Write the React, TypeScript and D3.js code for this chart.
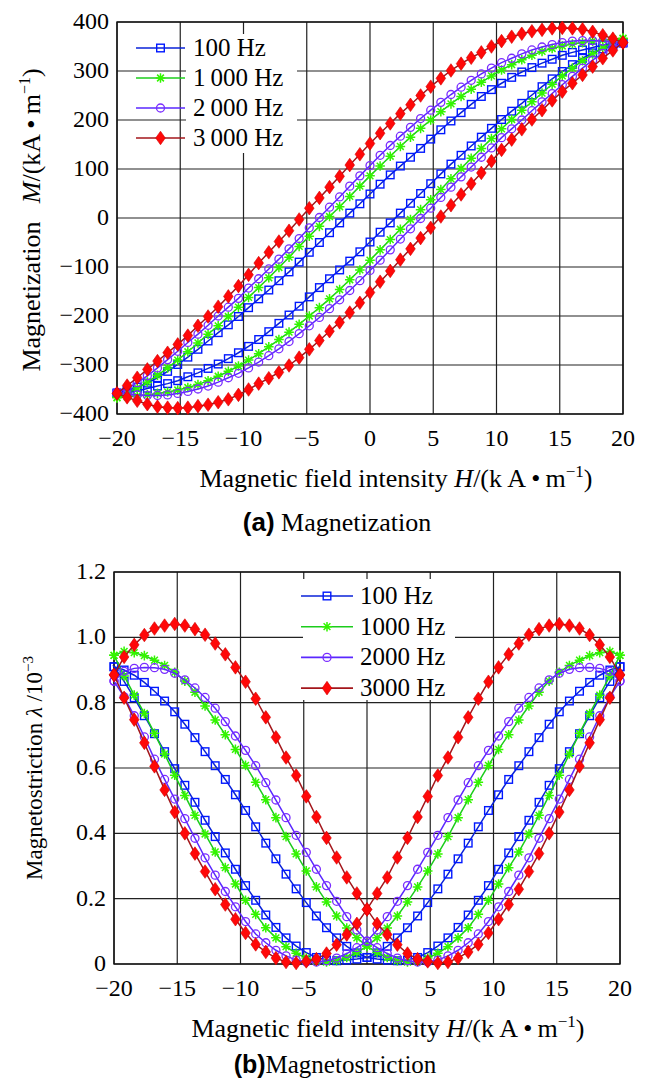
import React from "react";
import * as d3 from "d3";

// sampled field intensity H (kA/m), shared by every series
const H_POINTS = [-20, -19.2, -18.4, -17.6, -16.8, -16, -15.2, -14.4, -13.6, -12.8, -12, -11.2, -10.4, -9.6, -8.8, -8, -7.2, -6.4, -5.6, -4.8, -4, -3.2, -2.4, -1.6, -0.8, 0, 0.8, 1.6, 2.4, 3.2, 4, 4.8, 5.6, 6.4, 7.2, 8, 8.8, 9.6, 10.4, 11.2, 12, 12.8, 13.6, 14.4, 15.2, 16, 16.8, 17.6, 18.4, 19.2, 20];

const H_TICKS = [-20, -15, -10, -5, 0, 5, 10, 15, 20];
const M_TICKS = [-400, -300, -200, -100, 0, 100, 200, 300, 400];
const L_TICKS = [0, 0.2, 0.4, 0.6, 0.8, 1.0, 1.2];

// (a) magnetization, kA/m — upper (descending H) and lower (ascending H) branches
const magUpper100 = [-357, -352, -345, -337, -326, -313, -299, -284, -268, -251, -234, -218, -201, -183, -165, -147, -128, -110, -90, -70, -50, -30, -10, 10, 29, 49, 69, 88, 106, 124, 142, 161, 180, 198, 215, 232, 248, 262, 275, 287, 298, 307, 316, 324, 332, 338, 343, 348, 353, 356, 358];
const magLower100 = [-358, -356, -353, -348, -343, -338, -332, -324, -316, -307, -298, -287, -275, -262, -248, -232, -215, -198, -180, -161, -142, -124, -106, -88, -69, -49, -29, -10, 10, 30, 50, 70, 90, 110, 128, 147, 165, 183, 201, 218, 234, 251, 268, 284, 299, 313, 326, 337, 345, 352, 357];
const magUpper1000 = [-366, -358, -347, -335, -321, -306, -290, -273, -255, -237, -220, -201, -182, -162, -142, -122, -101, -80, -58, -37, -17, 3, 23, 44, 65, 86, 106, 126, 146, 165, 183, 200, 217, 233, 248, 263, 277, 290, 302, 313, 323, 332, 340, 346, 351, 355, 358, 361, 363, 365, 367];
const magLower1000 = [-367, -365, -363, -361, -358, -355, -351, -346, -340, -332, -323, -313, -302, -290, -277, -263, -248, -233, -217, -200, -183, -165, -146, -126, -106, -86, -65, -44, -23, -3, 17, 37, 58, 80, 101, 122, 142, 162, 182, 201, 220, 237, 255, 273, 290, 306, 321, 335, 347, 358, 366];
const magUpper2000 = [-356, -348, -336, -322, -306, -289, -272, -254, -237, -219, -200, -182, -164, -143, -124, -104, -84, -63, -42, -20, 1, 22, 43, 65, 86, 107, 128, 148, 167, 185, 203, 220, 236, 252, 267, 281, 294, 306, 317, 326, 335, 343, 349, 354, 358, 361, 362, 362, 361, 359, 356];
const magLower2000 = [-356, -359, -361, -362, -362, -361, -358, -354, -349, -343, -335, -326, -317, -306, -294, -281, -267, -252, -236, -220, -203, -185, -167, -148, -128, -107, -86, -65, -43, -22, -1, 20, 42, 63, 84, 104, 124, 143, 164, 182, 200, 219, 237, 254, 272, 289, 306, 322, 336, 348, 356];
const magUpper3000 = [-358, -342, -326, -309, -292, -275, -258, -240, -220, -201, -181, -160, -139, -116, -92, -70, -48, -26, -3, 20, 41, 63, 85, 108, 130, 152, 173, 193, 213, 231, 250, 268, 285, 301, 315, 327, 338, 350, 361, 370, 376, 381, 384, 387, 388, 387, 385, 380, 373, 366, 358];
const magLower3000 = [-358, -366, -373, -380, -385, -387, -388, -387, -384, -381, -376, -370, -361, -350, -338, -327, -315, -301, -285, -268, -250, -231, -213, -193, -173, -152, -130, -108, -85, -63, -41, -20, 3, 26, 48, 70, 92, 116, 139, 160, 181, 201, 220, 240, 258, 275, 292, 309, 326, 342, 358];

// (b) magnetostriction, 1e-3 — descending-H branch and ascending-H branch
const lamDesc100 = [0.91, 0.865, 0.815, 0.76, 0.705, 0.65, 0.598, 0.547, 0.495, 0.44, 0.39, 0.34, 0.29, 0.24, 0.195, 0.15, 0.112, 0.08, 0.055, 0.035, 0.02, 0.012, 0.01, 0.012, 0.015, 0.02, 0.034, 0.054, 0.08, 0.111, 0.147, 0.188, 0.23, 0.275, 0.322, 0.37, 0.42, 0.47, 0.518, 0.565, 0.607, 0.65, 0.693, 0.734, 0.772, 0.805, 0.835, 0.862, 0.884, 0.9, 0.91];
const lamAsc100 = [0.91, 0.9, 0.884, 0.862, 0.835, 0.805, 0.772, 0.734, 0.693, 0.65, 0.607, 0.565, 0.518, 0.47, 0.42, 0.37, 0.322, 0.275, 0.23, 0.188, 0.147, 0.111, 0.08, 0.054, 0.034, 0.02, 0.015, 0.012, 0.01, 0.012, 0.02, 0.035, 0.055, 0.08, 0.112, 0.15, 0.195, 0.24, 0.29, 0.34, 0.39, 0.44, 0.495, 0.547, 0.598, 0.65, 0.705, 0.76, 0.815, 0.865, 0.91];
const lamDesc1000 = [0.945, 0.882, 0.823, 0.767, 0.706, 0.643, 0.578, 0.516, 0.455, 0.398, 0.343, 0.295, 0.245, 0.195, 0.152, 0.111, 0.08, 0.053, 0.033, 0.018, 0.008, 0.006, 0.01, 0.02, 0.035, 0.055, 0.08, 0.11, 0.147, 0.19, 0.236, 0.285, 0.337, 0.39, 0.448, 0.503, 0.556, 0.608, 0.657, 0.702, 0.747, 0.79, 0.832, 0.866, 0.893, 0.914, 0.93, 0.944, 0.953, 0.957, 0.945];
const lamAsc1000 = [0.945, 0.957, 0.953, 0.944, 0.93, 0.914, 0.893, 0.866, 0.832, 0.79, 0.747, 0.702, 0.657, 0.608, 0.556, 0.503, 0.448, 0.39, 0.337, 0.285, 0.236, 0.19, 0.147, 0.11, 0.08, 0.055, 0.035, 0.02, 0.01, 0.006, 0.008, 0.018, 0.033, 0.053, 0.08, 0.111, 0.152, 0.195, 0.245, 0.295, 0.343, 0.398, 0.455, 0.516, 0.578, 0.643, 0.706, 0.767, 0.823, 0.882, 0.945];
const lamDesc2000 = [0.866, 0.818, 0.76, 0.695, 0.627, 0.565, 0.505, 0.445, 0.385, 0.325, 0.272, 0.222, 0.175, 0.13, 0.092, 0.065, 0.042, 0.025, 0.012, 0.006, 0.006, 0.01, 0.018, 0.032, 0.05, 0.07, 0.104, 0.145, 0.192, 0.24, 0.29, 0.342, 0.394, 0.448, 0.502, 0.555, 0.607, 0.654, 0.698, 0.742, 0.783, 0.816, 0.845, 0.87, 0.89, 0.902, 0.907, 0.908, 0.905, 0.896, 0.866];
const lamAsc2000 = [0.866, 0.896, 0.905, 0.908, 0.907, 0.902, 0.89, 0.87, 0.845, 0.816, 0.783, 0.742, 0.698, 0.654, 0.607, 0.555, 0.502, 0.448, 0.394, 0.342, 0.29, 0.24, 0.192, 0.145, 0.104, 0.07, 0.05, 0.032, 0.018, 0.01, 0.006, 0.006, 0.012, 0.025, 0.042, 0.065, 0.092, 0.13, 0.175, 0.222, 0.272, 0.325, 0.385, 0.445, 0.505, 0.565, 0.627, 0.695, 0.76, 0.818, 0.866];
const lamDesc3000 = [0.885, 0.815, 0.748, 0.677, 0.605, 0.533, 0.465, 0.4, 0.338, 0.283, 0.229, 0.182, 0.137, 0.095, 0.06, 0.037, 0.018, 0.006, 0.003, 0.008, 0.015, 0.032, 0.059, 0.09, 0.123, 0.167, 0.216, 0.265, 0.326, 0.386, 0.45, 0.513, 0.577, 0.632, 0.694, 0.755, 0.812, 0.864, 0.908, 0.948, 0.981, 1.008, 1.025, 1.036, 1.041, 1.036, 1.027, 1.007, 0.977, 0.94, 0.885];
const lamAsc3000 = [0.885, 0.94, 0.977, 1.007, 1.027, 1.036, 1.041, 1.036, 1.025, 1.008, 0.981, 0.948, 0.908, 0.864, 0.812, 0.755, 0.694, 0.632, 0.577, 0.513, 0.45, 0.386, 0.326, 0.265, 0.216, 0.167, 0.123, 0.09, 0.059, 0.032, 0.015, 0.008, 0.003, 0.006, 0.018, 0.037, 0.06, 0.095, 0.137, 0.182, 0.229, 0.283, 0.338, 0.4, 0.465, 0.533, 0.605, 0.677, 0.748, 0.815, 0.885];

const SERIES = [
  { label: "100 Hz", labelA: "100 Hz", shape: "square", line: "#0a22d8", mark: "#0018ff", mag: [magUpper100, magLower100], lam: [lamDesc100, lamAsc100] },
  { label: "1000 Hz", labelA: "1\u2009000 Hz", shape: "star", line: "#1ccc1c", mark: "#33f500", mag: [magUpper1000, magLower1000], lam: [lamDesc1000, lamAsc1000] },
  { label: "2000 Hz", labelA: "2\u2009000 Hz", shape: "circle", line: "#5a28ff", mark: "#7a2cff", mag: [magUpper2000, magLower2000], lam: [lamDesc2000, lamAsc2000] },
  { label: "3000 Hz", labelA: "3\u2009000 Hz", shape: "diamond", line: "#a3161b", mark: "#ff0808", mag: [magUpper3000, magLower3000], lam: [lamDesc3000, lamAsc3000] },
];

const SERIF = "'Liberation Serif', 'Times New Roman', serif";
const SANS = "'Liberation Sans', Arial, sans-serif";
const GRID = "#222";

const minus = (v: number) => (v < 0 ? "\u2212" + Math.abs(v) : String(v));

function Marker({ shape, x, y, color }: { shape: string; x: number; y: number; color: string }) {
  if (shape === "square")
    return <rect x={x - 3.8} y={y - 3.8} width={7.6} height={7.6} fill="none" stroke={color} strokeWidth={1.4} />;
  if (shape === "circle")
    return <circle cx={x} cy={y} r={4} fill="none" stroke={color} strokeWidth={1.3} />;
  if (shape === "diamond")
    return <path d={`M${x},${y - 6.8}L${x + 4.8},${y}L${x},${y + 6.8}L${x - 4.8},${y}Z`} fill={color} stroke="#d40000" strokeWidth={0.6} />;
  const r = 4.8;
  const k = r * 0.707;
  return (
    <path
      d={`M${x - r},${y}L${x + r},${y}M${x},${y - r}L${x},${y + r}M${x - k},${y - k}L${x + k},${y + k}M${x - k},${y + k}L${x + k},${y - k}`}
      stroke={color}
      strokeWidth={1.5}
    />
  );
}

function Panel({ box, yDomain, yTicks, yFmt, dataKey, legend }: any) {
  const [left, top, right, bottom] = box;
  const x = d3.scaleLinear().domain([-20, 20]).range([left, right]);
  const y = d3.scaleLinear().domain(yDomain).range([bottom, top]);
  const line = d3.line<[number, number]>().x((d) => x(d[0])).y((d) => y(d[1]));

  return (
    <g>
      {H_TICKS.map((t) => (
        <line key={"gx" + t} x1={x(t)} x2={x(t)} y1={top} y2={bottom} stroke={GRID} strokeWidth={1.2} />
      ))}
      {yTicks.map((t: number) => (
        <line key={"gy" + t} x1={left} x2={right} y1={y(t)} y2={y(t)} stroke={GRID} strokeWidth={1.2} />
      ))}
      <rect x={left} y={top} width={right - left} height={bottom - top} fill="none" stroke="#111" strokeWidth={1.4} />

      {SERIES.map((s) => {
        const [first, second] = s[dataKey];
        // first branch runs with decreasing H, second with increasing H
        const pts1: [number, number][] = H_POINTS.map((h, i) => [h, first[i]] as [number, number]).reverse();
        const pts2: [number, number][] = H_POINTS.map((h, i) => [h, second[i]] as [number, number]);
        const all = pts1.concat(pts2);
        return (
          <g key={s.label}>
            <path d={line(all) || ""} fill="none" stroke={s.line} strokeWidth={1.5} />
            {all.map((p, i) => (
              <Marker key={i} shape={s.shape} x={x(p[0])} y={y(p[1])} color={s.mark} />
            ))}
          </g>
        );
      })}

      {H_TICKS.map((t) => (
        <text key={"tx" + t} x={x(t)} y={bottom + 32} textAnchor="middle" fontFamily={SERIF} fontSize={24}>
          {minus(t)}
        </text>
      ))}
      {yTicks.map((t: number) => (
        <text key={"ty" + t} x={left - 8} y={y(t) + 7} textAnchor="end" fontFamily={SERIF} fontSize={24}>
          {yFmt(t)}
        </text>
      ))}

      <rect x={legend.box[0]} y={legend.box[1]} width={legend.box[2]} height={legend.box[3]} fill="#fff" />
      {SERIES.map((s, i) => {
        const ly = legend.y0 + i * legend.dy;
        return (
          <g key={"lg" + s.label}>
            <line x1={legend.x0} x2={legend.x1} y1={ly} y2={ly} stroke={s.line} strokeWidth={1.6} />
            <Marker shape={s.shape} x={(legend.x0 + legend.x1) / 2} y={ly} color={s.mark} />
            <text x={legend.tx} y={ly + 8} fontFamily={SERIF} fontSize={25}>
              {legend.useA ? s.labelA : s.label}
            </text>
          </g>
        );
      })}
    </g>
  );
}

function XLabel({ cx, y }: { cx: number; y: number }) {
  return (
    <text x={cx} y={y} textAnchor="middle" fontFamily={SERIF} fontSize={26}>
      Magnetic field intensity <tspan fontStyle="italic">H</tspan>/(k{"\u2009"}A{"\u2009\u2022\u2009"}m
      <tspan dy={-10} fontSize={17}>{"\u22121"}</tspan>
      <tspan dy={10}>)</tspan>
    </text>
  );
}

export default function App() {
  return (
    <svg width={646} height={1078} style={{ position: "absolute", left: 0, top: 0, background: "#fff" }}>
      <Panel
        box={[117, 22, 623, 414]}
        yDomain={[-400, 400]}
        yTicks={M_TICKS}
        yFmt={minus}
        dataKey="mag"
        legend={{ box: [186, 34, 111, 119], x0: 136, x1: 185, tx: 193, y0: 48, dy: 30, useA: true }}
      />
      <text transform="translate(40,220) rotate(-90)" textAnchor="middle" fontFamily={SERIF} fontSize={26}>
        {"Magnetization\u2002\u2009"}<tspan fontStyle="italic">M</tspan>/(kA{"\u2009\u2022\u2009"}m
        <tspan dy={-10} fontSize={16}>{"\u22121"}</tspan>
        <tspan dy={10}>)</tspan>
      </text>
      <XLabel cx={396} y={487} />
      <text x={337} y={531} textAnchor="middle" fontSize={26}>
        <tspan fontFamily={SANS} fontWeight="bold">(a)</tspan>
        <tspan fontFamily={SERIF}> Magnetization</tspan>
      </text>

      <Panel
        box={[114, 572, 620, 964]}
        yDomain={[0, 1.2]}
        yTicks={L_TICKS}
        yFmt={(t: number) => (t === 0 ? "0" : t.toFixed(1))}
        dataKey="lam"
        legend={{ box: [303, 579, 152, 121], x0: 301, x1: 353, tx: 360, y0: 596, dy: 30.7, useA: false }}
      />
      <text transform="translate(42,768) rotate(-90)" textAnchor="middle" fontFamily={SERIF} fontSize={23}>
        Magnetostriction <tspan fontStyle="italic">{"\u03bb"}</tspan> /10
        <tspan dy={-9} fontSize={15}>{"\u22123"}</tspan>
      </text>
      <XLabel cx={388} y={1037} />
      <text x={335} y={1073} textAnchor="middle" fontSize={25}>
        <tspan fontFamily={SANS} fontWeight="bold">(b)</tspan>
        <tspan fontFamily={SERIF}>Magnetostriction</tspan>
      </text>
    </svg>
  );
}
